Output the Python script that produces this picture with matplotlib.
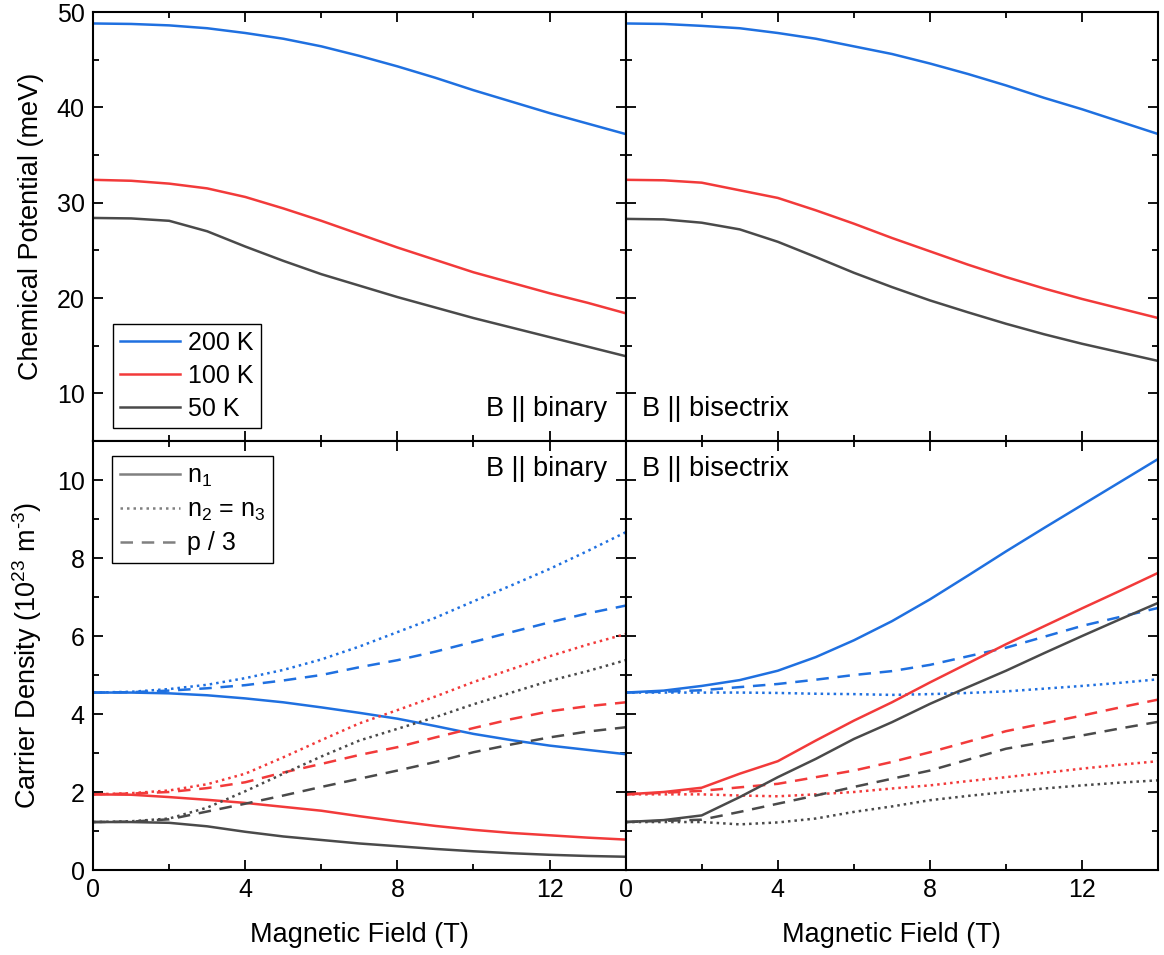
import matplotlib
matplotlib.use("Agg")
import matplotlib.pyplot as plt
from matplotlib.ticker import MultipleLocator
import numpy as np

plt.rcParams["font.family"] = "Liberation Sans"
plt.rcParams["mathtext.fontset"] = "custom"
plt.rcParams["mathtext.rm"] = "Liberation Sans"
plt.rcParams["mathtext.default"] = "regular"
plt.rcParams["font.size"] = 18

# magnetic field (T)
B = np.arange(0, 15)

# chemical potential (meV), B || binary
mu_bin_200 = [48.8, 48.75, 48.6, 48.3, 47.8, 47.2, 46.4, 45.4, 44.3, 43.1, 41.8, 40.6, 39.4, 38.3, 37.2]
mu_bin_100 = [32.4, 32.3, 32.0, 31.5, 30.6, 29.4, 28.1, 26.7, 25.3, 24.0, 22.7, 21.6, 20.5, 19.5, 18.4]
mu_bin_50 = [28.4, 28.35, 28.1, 27.0, 25.4, 23.9, 22.5, 21.3, 20.1, 19.0, 17.9, 16.9, 15.9, 14.9, 13.9]

# chemical potential (meV), B || bisectrix
mu_bis_200 = [48.8, 48.75, 48.55, 48.3, 47.8, 47.2, 46.4, 45.6, 44.6, 43.5, 42.3, 41.0, 39.8, 38.5, 37.2]
mu_bis_100 = [32.4, 32.35, 32.1, 31.3, 30.5, 29.2, 27.8, 26.3, 24.9, 23.5, 22.2, 21.0, 19.9, 18.9, 17.9]
mu_bis_50 = [28.3, 28.25, 27.9, 27.2, 25.9, 24.3, 22.65, 21.15, 19.75, 18.5, 17.3, 16.2, 15.2, 14.3, 13.4]

# carrier density (1e23 m^-3), B || binary
n1_bin_200 = [4.55, 4.55, 4.53, 4.48, 4.40, 4.30, 4.17, 4.03, 3.88, 3.69, 3.49, 3.33, 3.19, 3.08, 2.97]
n2_bin_200 = [4.55, 4.57, 4.64, 4.75, 4.92, 5.13, 5.40, 5.73, 6.10, 6.47, 6.89, 7.30, 7.72, 8.18, 8.66]
p_bin_200 = [4.55, 4.56, 4.60, 4.66, 4.74, 4.86, 5.00, 5.20, 5.38, 5.60, 5.85, 6.10, 6.35, 6.58, 6.78]
n1_bin_100 = [1.94, 1.93, 1.87, 1.80, 1.72, 1.62, 1.52, 1.38, 1.25, 1.13, 1.03, 0.95, 0.89, 0.83, 0.78]
n2_bin_100 = [1.94, 1.97, 2.04, 2.20, 2.47, 2.89, 3.33, 3.76, 4.10, 4.45, 4.82, 5.15, 5.48, 5.78, 6.05]
p_bin_100 = [1.94, 1.96, 2.00, 2.10, 2.25, 2.50, 2.72, 2.95, 3.15, 3.40, 3.64, 3.87, 4.07, 4.20, 4.30]
n1_bin_50 = [1.23, 1.23, 1.21, 1.12, 0.98, 0.86, 0.77, 0.68, 0.61, 0.54, 0.48, 0.43, 0.39, 0.36, 0.34]
n2_bin_50 = [1.23, 1.25, 1.32, 1.60, 2.02, 2.47, 2.91, 3.32, 3.62, 3.92, 4.25, 4.55, 4.85, 5.10, 5.38]
p_bin_50 = [1.23, 1.24, 1.30, 1.50, 1.70, 1.91, 2.13, 2.34, 2.55, 2.77, 3.02, 3.22, 3.40, 3.55, 3.66]

# carrier density (1e23 m^-3), B || bisectrix
n1_bis_200 = [4.55, 4.60, 4.72, 4.87, 5.11, 5.46, 5.89, 6.38, 6.94, 7.55, 8.17, 8.77, 9.36, 9.95, 10.54]
n2_bis_200 = [4.55, 4.55, 4.55, 4.55, 4.54, 4.52, 4.51, 4.49, 4.51, 4.54, 4.58, 4.65, 4.72, 4.80, 4.89]
p_bis_200 = [4.55, 4.57, 4.61, 4.69, 4.77, 4.88, 5.00, 5.10, 5.26, 5.48, 5.70, 5.98, 6.26, 6.49, 6.72]
n1_bis_100 = [1.94, 2.00, 2.11, 2.47, 2.79, 3.32, 3.83, 4.30, 4.81, 5.30, 5.79, 6.25, 6.71, 7.16, 7.62]
n2_bis_100 = [1.94, 1.94, 1.94, 1.91, 1.89, 1.94, 2.00, 2.09, 2.17, 2.28, 2.38, 2.49, 2.60, 2.70, 2.79]
p_bis_100 = [1.94, 1.98, 2.03, 2.12, 2.21, 2.38, 2.55, 2.77, 3.02, 3.29, 3.56, 3.76, 3.96, 4.17, 4.37]
n1_bis_50 = [1.23, 1.28, 1.40, 1.87, 2.38, 2.85, 3.36, 3.79, 4.26, 4.69, 5.11, 5.56, 6.00, 6.43, 6.85]
n2_bis_50 = [1.23, 1.23, 1.23, 1.17, 1.22, 1.32, 1.49, 1.63, 1.79, 1.90, 2.00, 2.09, 2.17, 2.24, 2.30]
p_bis_50 = [1.23, 1.26, 1.29, 1.49, 1.70, 1.91, 2.13, 2.34, 2.55, 2.83, 3.11, 3.28, 3.45, 3.63, 3.80]

temps = ["200 K", "100 K", "50 K"]
carriers = ["n$_1$", "n$_2$ = n$_3$", "p / 3"]
colors = ["#1F70E0", "#F23A3A", "#4A4A4A"]
lw = 1.8
label_fs = 19.5

fig, axs = plt.subplots(2, 2, figsize=(11.64, 9.55), dpi=100, sharex=True)
fig.subplots_adjust(left=0.080, right=0.995, top=0.9874, bottom=0.089, hspace=0, wspace=0)
(ax_mb, ax_ms), (ax_nb, ax_ns) = axs

mu_bin = [mu_bin_200, mu_bin_100, mu_bin_50]
mu_bis = [mu_bis_200, mu_bis_100, mu_bis_50]
for mb, ms, c, t in zip(mu_bin, mu_bis, colors, temps):
    ax_mb.plot(B, mb, color=c, lw=lw, label=t)
    ax_ms.plot(B, ms, color=c, lw=lw)

dens_bin = [(n1_bin_200, n2_bin_200, p_bin_200),
            (n1_bin_100, n2_bin_100, p_bin_100),
            (n1_bin_50, n2_bin_50, p_bin_50)]
dens_bis = [(n1_bis_200, n2_bis_200, p_bis_200),
            (n1_bis_100, n2_bis_100, p_bis_100),
            (n1_bis_50, n2_bis_50, p_bis_50)]
styles = ["-", (0, (1, 1.6)), (0, (5, 3.5))]
for ax, dens in ((ax_nb, dens_bin), (ax_ns, dens_bis)):
    for (n1, n2, p), c in zip(dens, colors):
        for y, ls in zip((n1, n2, p), styles):
            ax.plot(B, y, color=c, lw=lw, ls=ls)

# legend for the carrier types, drawn in neutral grey
gray = "#808080"
h = [plt.Line2D([], [], color=gray, lw=lw, ls=ls) for ls in styles]
leg_kw = dict(fancybox=False, edgecolor="black", framealpha=1, handlelength=2.4,
              handletextpad=0.3, borderpad=0.3, labelspacing=0.35,
              borderaxespad=0, fontsize=18)
ax_nb.legend(h, carriers, loc="upper left", bbox_to_anchor=(0.036, 0.965),
             **leg_kw).get_frame().set_linewidth(1.0)
ax_mb.legend(loc="lower left", bbox_to_anchor=(0.037, 0.030),
             **leg_kw).get_frame().set_linewidth(1.0)

for ax in (ax_mb, ax_ms):
    ax.set_ylim(5, 50)
    ax.yaxis.set_major_locator(MultipleLocator(10))
    ax.yaxis.set_minor_locator(MultipleLocator(5))
for ax in (ax_nb, ax_ns):
    ax.set_ylim(0, 11)
    ax.yaxis.set_major_locator(MultipleLocator(2))
    ax.yaxis.set_minor_locator(MultipleLocator(1))
for ax in axs.flat:
    ax.set_xlim(0, 14)
    ax.xaxis.set_major_locator(MultipleLocator(4))
    ax.xaxis.set_minor_locator(MultipleLocator(2))
    ax.tick_params(which="both", direction="in", top=True, right=True, width=1.3)
    ax.tick_params(which="major", length=7.5, labelsize=18, pad=6)
    ax.tick_params(which="minor", length=4.5)
    for s in ax.spines.values():
        s.set_linewidth(1.5)

for ax in (ax_ms, ax_ns):
    ax.tick_params(labelleft=False)
for ax in (ax_mb, ax_ms):
    ax.tick_params(labelbottom=False)

ax_mb.set_ylabel("Chemical Potential (meV)", fontsize=label_fs, labelpad=9)
ax_nb.set_ylabel("Carrier Density (10$^{23}$ m$^{\u20103}$)", fontsize=label_fs, labelpad=9)
ax_nb.set_xlabel("Magnetic Field (T)", fontsize=label_fs, labelpad=14)
ax_ns.set_xlabel("Magnetic Field (T)", fontsize=label_fs, labelpad=14)

ax_mb.text(0.965, 0.045, "B || binary", transform=ax_mb.transAxes, ha="right", va="bottom", fontsize=label_fs)
ax_ms.text(0.03, 0.045, "B || bisectrix", transform=ax_ms.transAxes, ha="left", va="bottom", fontsize=label_fs)
ax_nb.text(0.965, 0.965, "B || binary", transform=ax_nb.transAxes, ha="right", va="top", fontsize=label_fs)
ax_ns.text(0.03, 0.965, "B || bisectrix", transform=ax_ns.transAxes, ha="left", va="top", fontsize=label_fs)

fig.savefig("out.png", dpi=100)
